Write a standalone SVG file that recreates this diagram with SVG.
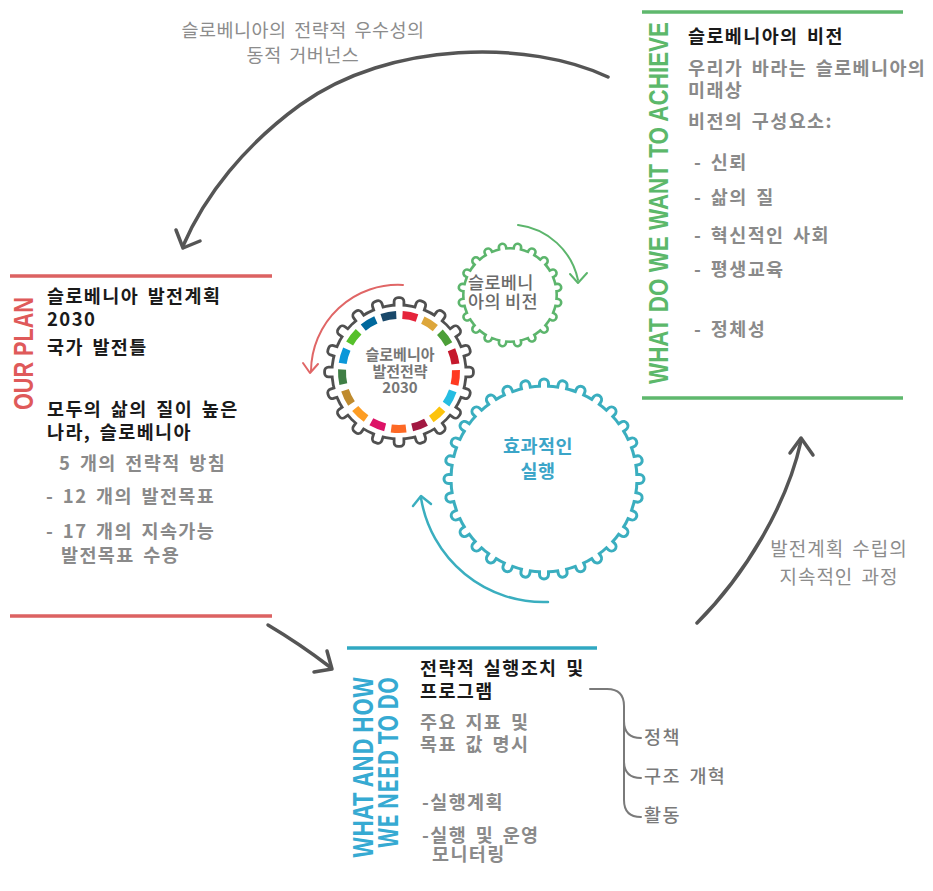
<svg xmlns="http://www.w3.org/2000/svg" width="933" height="891" viewBox="0 0 933 891">
<style>
  text { font-family: "Noto Sans CJK KR", "Noto Sans", sans-serif; }
  .hd { font-size: 18.5px; font-weight: 700; fill: #1a1a1a; letter-spacing: 1.4px; word-spacing: 3px; }
  .sub { font-size: 18.5px; font-weight: 700; fill: #8a8a8a; letter-spacing: 1.4px; word-spacing: 3px; }
  .br { font-size: 18.5px; font-weight: 500; fill: #7a7a7a; letter-spacing: 1.4px; word-spacing: 3px; }
  .lbl { font-size: 18.5px; fill: #8c8c8c; letter-spacing: 0.5px; word-spacing: 3px; }
  .cap { font-family: "Liberation Sans", Arial, sans-serif; font-weight: 700; font-size: 27px; }
  .arw { fill: none; stroke: #555; stroke-width: 3.5; stroke-linecap: round; stroke-linejoin: round; }
  .sdg { fill: none; stroke-width: 8; }
</style>
<defs>
  <!-- single tooth shapes; fill and stroke come from the referencing <use> -->
  <rect id="tooth-s" x="-3.5" y="-73" width="7" height="13" rx="2.5"/>
  <rect id="tooth-v" x="-2.3" y="-50.5" width="4.6" height="8.5" rx="2.3"/>
  <rect id="tooth-e" x="-3" y="-98.5" width="6" height="10.5" rx="3"/>
  <g id="teeth-s">
    <use href="#tooth-s" transform="rotate(0)"/><use href="#tooth-s" transform="rotate(18)"/>
    <use href="#tooth-s" transform="rotate(36)"/><use href="#tooth-s" transform="rotate(54)"/>
    <use href="#tooth-s" transform="rotate(72)"/><use href="#tooth-s" transform="rotate(90)"/>
    <use href="#tooth-s" transform="rotate(108)"/><use href="#tooth-s" transform="rotate(126)"/>
    <use href="#tooth-s" transform="rotate(144)"/><use href="#tooth-s" transform="rotate(162)"/>
    <use href="#tooth-s" transform="rotate(180)"/><use href="#tooth-s" transform="rotate(198)"/>
    <use href="#tooth-s" transform="rotate(216)"/><use href="#tooth-s" transform="rotate(234)"/>
    <use href="#tooth-s" transform="rotate(252)"/><use href="#tooth-s" transform="rotate(270)"/>
    <use href="#tooth-s" transform="rotate(288)"/><use href="#tooth-s" transform="rotate(306)"/>
    <use href="#tooth-s" transform="rotate(324)"/><use href="#tooth-s" transform="rotate(342)"/>
  </g>
  <g id="teeth-v">
    <use href="#tooth-v" transform="rotate(9)"/><use href="#tooth-v" transform="rotate(27)"/>
    <use href="#tooth-v" transform="rotate(45)"/><use href="#tooth-v" transform="rotate(63)"/>
    <use href="#tooth-v" transform="rotate(81)"/><use href="#tooth-v" transform="rotate(99)"/>
    <use href="#tooth-v" transform="rotate(117)"/><use href="#tooth-v" transform="rotate(135)"/>
    <use href="#tooth-v" transform="rotate(153)"/><use href="#tooth-v" transform="rotate(171)"/>
    <use href="#tooth-v" transform="rotate(189)"/><use href="#tooth-v" transform="rotate(207)"/>
    <use href="#tooth-v" transform="rotate(225)"/><use href="#tooth-v" transform="rotate(243)"/>
    <use href="#tooth-v" transform="rotate(261)"/><use href="#tooth-v" transform="rotate(279)"/>
    <use href="#tooth-v" transform="rotate(297)"/><use href="#tooth-v" transform="rotate(315)"/>
    <use href="#tooth-v" transform="rotate(333)"/><use href="#tooth-v" transform="rotate(351)"/>
  </g>
  <g id="teeth-e">
    <use href="#tooth-e" transform="rotate(0)"/><use href="#tooth-e" transform="rotate(11.25)"/>
    <use href="#tooth-e" transform="rotate(22.5)"/><use href="#tooth-e" transform="rotate(33.75)"/>
    <use href="#tooth-e" transform="rotate(45)"/><use href="#tooth-e" transform="rotate(56.25)"/>
    <use href="#tooth-e" transform="rotate(67.5)"/><use href="#tooth-e" transform="rotate(78.75)"/>
    <use href="#tooth-e" transform="rotate(90)"/><use href="#tooth-e" transform="rotate(101.25)"/>
    <use href="#tooth-e" transform="rotate(112.5)"/><use href="#tooth-e" transform="rotate(123.75)"/>
    <use href="#tooth-e" transform="rotate(135)"/><use href="#tooth-e" transform="rotate(146.25)"/>
    <use href="#tooth-e" transform="rotate(157.5)"/><use href="#tooth-e" transform="rotate(168.75)"/>
    <use href="#tooth-e" transform="rotate(180)"/><use href="#tooth-e" transform="rotate(191.25)"/>
    <use href="#tooth-e" transform="rotate(202.5)"/><use href="#tooth-e" transform="rotate(213.75)"/>
    <use href="#tooth-e" transform="rotate(225)"/><use href="#tooth-e" transform="rotate(236.25)"/>
    <use href="#tooth-e" transform="rotate(247.5)"/><use href="#tooth-e" transform="rotate(258.75)"/>
    <use href="#tooth-e" transform="rotate(270)"/><use href="#tooth-e" transform="rotate(281.25)"/>
    <use href="#tooth-e" transform="rotate(292.5)"/><use href="#tooth-e" transform="rotate(303.75)"/>
    <use href="#tooth-e" transform="rotate(315)"/><use href="#tooth-e" transform="rotate(326.25)"/>
    <use href="#tooth-e" transform="rotate(337.5)"/><use href="#tooth-e" transform="rotate(348.75)"/>
  </g>
</defs>

<rect width="933" height="891" fill="#fff"/>

<!-- connectors -->
<g id="connectors">
  <!-- governance loop: vision back to plan -->
  <path class="arw" d="M608,77 C530,40 390,40 300,105 C245,145 205,195 183,246"/>
  <path class="arw" d="M176,230 L183,248 L200,241"/>
  <!-- plan to action -->
  <path class="arw" d="M268,625 Q300,644 330,667"/>
  <path class="arw" d="M327,651 L332,669 L314,672"/>
  <!-- action to vision -->
  <path class="arw" d="M697,623 C745,575 787,505 801,441"/>
  <path class="arw" d="M790,453 L801,438 L813,455"/>
  <!-- rotation arrows around the gears -->
  <g fill="none" stroke-linecap="round" stroke-linejoin="round">
    <path d="M403,285 A87,87 0 0 0 311,371" stroke="#e06666" stroke-width="2"/>
    <path d="M303,363 L310,373 L318,364" stroke="#e06666" stroke-width="2"/>
    <path d="M518,225 A70,70 0 0 1 578,280" stroke="#5cb56c" stroke-width="2"/>
    <path d="M570,274 L578,283 L587,273" stroke="#5cb56c" stroke-width="2"/>
    <path d="M548,602 A124,124 0 0 1 421,498" stroke="#3aaebf" stroke-width="2.5"/>
    <path d="M413,506 L421,496 L431,504" stroke="#3aaebf" stroke-width="2.5"/>
  </g>
  <!-- bracket from programmes to instruments -->
  <g fill="none" stroke="#7a7a7a" stroke-width="2" stroke-linecap="round">
    <path d="M590,689 L607,689 Q624,689 624,706 L624,800 Q624,817 641,817"/>
    <path d="M624,721 Q624,738 641,738"/>
    <path d="M624,761 Q624,778 641,778"/>
  </g>
  <text class="lbl" x="303" y="37" text-anchor="middle">슬로베니아의 전략적 우수성의</text>
  <text class="lbl" x="303" y="62" text-anchor="middle">동적 거버넌스</text>
  <text class="lbl" x="839" y="556" text-anchor="middle" style="font-size:19px;letter-spacing:1px">발전계획 수립의</text>
  <text class="lbl" x="839" y="584" text-anchor="middle" style="font-size:19px;letter-spacing:1px">지속적인 과정</text>
</g>

<!-- strategy gear -->
<g id="gear-strategy" transform="translate(399 372)">
  <circle r="68.4" fill="#505050"/>
  <use href="#teeth-s" fill="#505050" stroke="#505050" stroke-width="5.6" stroke-linejoin="round"/>
  <circle r="65.6" fill="#fff"/>
  <use href="#teeth-s" fill="#fff"/>
  <g class="sdg">
    <circle r="57" pathLength="360" stroke-dasharray="15 345" stroke="#E5243B" transform="rotate(-86.5)"/>
    <circle r="57" pathLength="360" stroke-dasharray="15 345" stroke="#DDA63A" transform="rotate(-65.32)"/>
    <circle r="57" pathLength="360" stroke-dasharray="15 345" stroke="#4C9F38" transform="rotate(-44.15)"/>
    <circle r="57" pathLength="360" stroke-dasharray="15 345" stroke="#C5192D" transform="rotate(-22.97)"/>
    <circle r="57" pathLength="360" stroke-dasharray="15 345" stroke="#FF3A21" transform="rotate(-1.8)"/>
    <circle r="57" pathLength="360" stroke-dasharray="15 345" stroke="#26BDE2" transform="rotate(19.38)"/>
    <circle r="57" pathLength="360" stroke-dasharray="15 345" stroke="#FCC30B" transform="rotate(40.56)"/>
    <circle r="57" pathLength="360" stroke-dasharray="15 345" stroke="#A21942" transform="rotate(61.73)"/>
    <circle r="57" pathLength="360" stroke-dasharray="15 345" stroke="#FD6925" transform="rotate(82.91)"/>
    <circle r="57" pathLength="360" stroke-dasharray="15 345" stroke="#DD1367" transform="rotate(104.08)"/>
    <circle r="57" pathLength="360" stroke-dasharray="15 345" stroke="#FD9D24" transform="rotate(125.26)"/>
    <circle r="57" pathLength="360" stroke-dasharray="15 345" stroke="#BF8B2E" transform="rotate(146.44)"/>
    <circle r="57" pathLength="360" stroke-dasharray="15 345" stroke="#3F7E44" transform="rotate(167.61)"/>
    <circle r="57" pathLength="360" stroke-dasharray="15 345" stroke="#0A97D9" transform="rotate(188.79)"/>
    <circle r="57" pathLength="360" stroke-dasharray="15 345" stroke="#56C02B" transform="rotate(209.96)"/>
    <circle r="57" pathLength="360" stroke-dasharray="15 345" stroke="#00689D" transform="rotate(231.14)"/>
    <circle r="57" pathLength="360" stroke-dasharray="15 345" stroke="#19486A" transform="rotate(252.32)"/>
  </g>
  <g text-anchor="middle" font-size="15" font-weight="700" fill="#767676">
    <text x="1" y="-12">슬로베니아</text>
    <text x="1" y="4.5">발전전략</text>
    <text x="1" y="21">2030</text>
  </g>
</g>

<!-- vision gear -->
<g id="gear-vision" transform="translate(510 295)">
  <circle r="48" fill="#5cb56c"/>
  <use href="#teeth-v" fill="#5cb56c" stroke="#5cb56c" stroke-width="5.2" stroke-linejoin="round"/>
  <circle r="45.4" fill="#fff"/>
  <use href="#teeth-v" fill="#fff"/>
  <g font-size="17.5" font-weight="500" fill="#6a6a6a" letter-spacing="0.3">
    <text x="-42" y="-6">슬로베니</text>
    <text x="-42" y="13">아의 비전</text>
  </g>
</g>

<!-- implementation gear -->
<g id="gear-implementation" transform="translate(544 479)">
  <circle r="94.5" fill="#3aaebf"/>
  <use href="#teeth-e" fill="#3aaebf" stroke="#3aaebf" stroke-width="6" stroke-linejoin="round"/>
  <circle r="91.5" fill="#fff"/>
  <use href="#teeth-e" fill="#fff"/>
  <g text-anchor="middle" font-size="18.5" font-weight="700" fill="#3ba5c8" letter-spacing="0.5">
    <text x="-6" y="-26">효과적인</text>
    <text x="-6" y="-1">실행</text>
  </g>
</g>

<!-- plan panel -->
<g id="panel-plan">
  <path d="M10,276 H272 M10,616 H272" stroke="#dc6262" stroke-width="3.5" fill="none"/>
  <text class="cap" transform="translate(33 410) rotate(-90)" textLength="113" lengthAdjust="spacingAndGlyphs" fill="#df5a5a">OUR PLAN</text>
  <text class="hd" x="47" y="303">슬로베니아 발전계획</text>
  <text class="hd" x="47" y="326">2030</text>
  <text class="hd" x="47" y="354">국가 발전틀</text>
  <text class="hd" x="47" y="416">모두의 삶의 질이 높은</text>
  <text class="hd" x="47" y="439">나라, 슬로베니아</text>
  <text class="sub" x="59" y="470">5 개의 전략적 방침</text>
  <text class="sub" x="46" y="503">- 12 개의 발전목표</text>
  <text class="sub" x="46" y="538">- 17 개의 지속가능</text>
  <text class="sub" x="61" y="562">발전목표 수용</text>
</g>

<!-- vision panel -->
<g id="panel-vision">
  <path d="M642,12 H903 M642,398 H903" stroke="#5fb86d" stroke-width="3.5" fill="none"/>
  <text class="cap" transform="translate(668 384) rotate(-90)" textLength="362" lengthAdjust="spacingAndGlyphs" fill="#5cb86a">WHAT DO WE WANT TO ACHIEVE</text>
  <text class="hd" x="688" y="43">슬로베니아의 비전</text>
  <text class="sub" x="688" y="75">우리가 바라는 슬로베니아의</text>
  <text class="sub" x="688" y="97">미래상</text>
  <text class="sub" x="688" y="128">비전의 구성요소:</text>
  <text class="sub" x="694" y="169">- 신뢰</text>
  <text class="sub" x="694" y="204">- 삶의 질</text>
  <text class="sub" x="694" y="242">- 혁신적인 사회</text>
  <text class="sub" x="694" y="276">- 평생교육</text>
  <text class="sub" x="694" y="336">- 정체성</text>
</g>

<!-- action panel -->
<g id="panel-action">
  <path d="M347,648 H597" stroke="#30a8c2" stroke-width="3.5" fill="none"/>
  <g class="cap" fill="#36aad2" text-anchor="end">
    <text transform="translate(373 677) rotate(-90)" textLength="181" lengthAdjust="spacingAndGlyphs">WHAT AND HOW</text>
    <text transform="translate(398 677) rotate(-90)" textLength="171" lengthAdjust="spacingAndGlyphs">WE NEED TO DO</text>
  </g>
  <text class="hd" x="420" y="675">전략적 실행조치 및</text>
  <text class="hd" x="420" y="698">프로그램</text>
  <text class="sub" x="420" y="729">주요 지표 및</text>
  <text class="sub" x="420" y="751">목표 값 명시</text>
  <text class="sub" x="422" y="809">-실행계획</text>
  <text class="sub" x="422" y="842">-실행 및 운영</text>
  <text class="sub" x="432" y="861">모니터링</text>
</g>

<!-- policy instruments -->
<g id="instruments">
  <text class="br" x="644" y="744">정책</text>
  <text class="br" x="644" y="783">구조 개혁</text>
  <text class="br" x="644" y="822">활동</text>
</g>
</svg>
